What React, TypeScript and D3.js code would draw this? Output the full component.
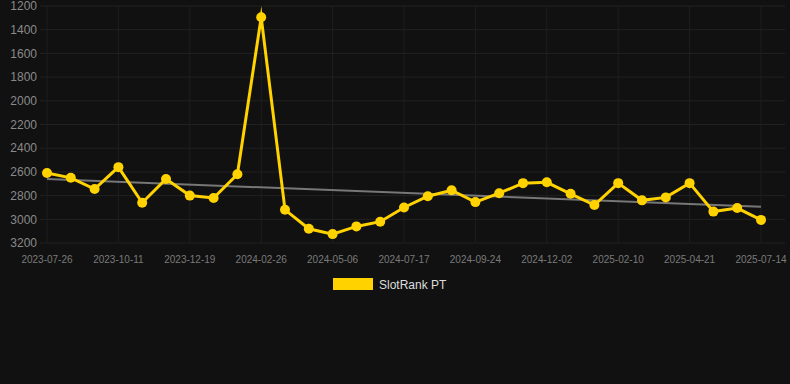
import React from "react";
import * as d3 from "d3";

const categories = [
  "2023-07-26", "2023-08-21", "2023-09-15", "2023-10-11", "2023-11-03", "2023-11-26",
  "2023-12-19", "2024-01-11", "2024-02-03", "2024-02-26", "2024-03-20", "2024-04-12",
  "2024-05-06", "2024-05-30", "2024-06-23", "2024-07-17", "2024-08-09", "2024-09-01",
  "2024-09-24", "2024-10-17", "2024-11-09", "2024-12-02", "2024-12-25", "2025-01-17",
  "2025-02-10", "2025-03-06", "2025-03-28", "2025-04-21", "2025-05-19", "2025-06-16",
  "2025-07-14",
];

const rankValues = [
  2610, 2650, 2745, 2560, 2860, 2660, 2800, 2820, 2620, 1295, 2920, 3080,
  3125, 3060, 3020, 2900, 2805, 2755, 2855, 2780, 2695, 2688, 2785, 2880,
  2695, 2840, 2815, 2695, 2935, 2905, 3005,
];

const trendValues = [2660, 2895];

const yTicks = [1200, 1400, 1600, 1800, 2000, 2200, 2400, 2600, 2800, 3000, 3200];

const seriesName = "SlotRank PT";

export default function App() {
  const W = 790, H = 384;
  const x = d3.scalePoint<string>().domain(categories).range([47, 761]);
  const y = d3.scaleLinear().domain([1200, 3200]).range([6, 243]);
  const line = d3
    .line<number>()
    .x((_, i) => x(categories[i]) as number)
    .y((d) => y(d));
  const labeled = categories.filter((_, i) => i % 3 === 0);
  const color = "#FFD200";
  const first = categories[0];
  const last = categories[categories.length - 1];

  return (
    <svg
      width={W}
      height={H}
      style={{ position: "absolute", left: 0, top: 0, background: "#111111" }}
      fontFamily="Arial, 'Liberation Sans', sans-serif"
    >
      <rect x={0} y={0} width={W} height={H} fill="#111111" />
      {yTicks.map((t) => (
        <g key={t}>
          <line x1={40} x2={785} y1={y(t)} y2={y(t)} stroke="#222" strokeWidth={1} />
          <text x={37} y={y(t)} dy="0.35em" textAnchor="end" fontSize={12} fill="#8a8a8a">
            {t}
          </text>
        </g>
      ))}
      {labeled.map((c) => (
        <g key={c}>
          <line x1={x(c)} x2={x(c)} y1={y(1200)} y2={y(3200)} stroke="#1f1f1f" strokeWidth={1} />
          <text x={x(c)} y={259} dy="0.35em" textAnchor="middle" fontSize={10} fill="#7a7a7a">
            {c}
          </text>
        </g>
      ))}
      <line
        x1={x(first)}
        x2={x(last)}
        y1={y(trendValues[0])}
        y2={y(trendValues[1])}
        stroke="#777"
        strokeWidth={2}
      />
      <path
        d={line(rankValues) || ""}
        fill="none"
        stroke={color}
        strokeWidth={3}
        strokeLinejoin="miter"
        strokeMiterlimit={10}
      />
      {rankValues.map((v, i) => (
        <circle key={i} cx={x(categories[i])} cy={y(v)} r={5} fill={color} />
      ))}
      <rect x={333} y={278} width={40} height={12} fill={color} />
      <text x={379} y={284.5} dy="0.35em" fontSize={12} fill="#dddddd">
        {seriesName}
      </text>
    </svg>
  );
}
